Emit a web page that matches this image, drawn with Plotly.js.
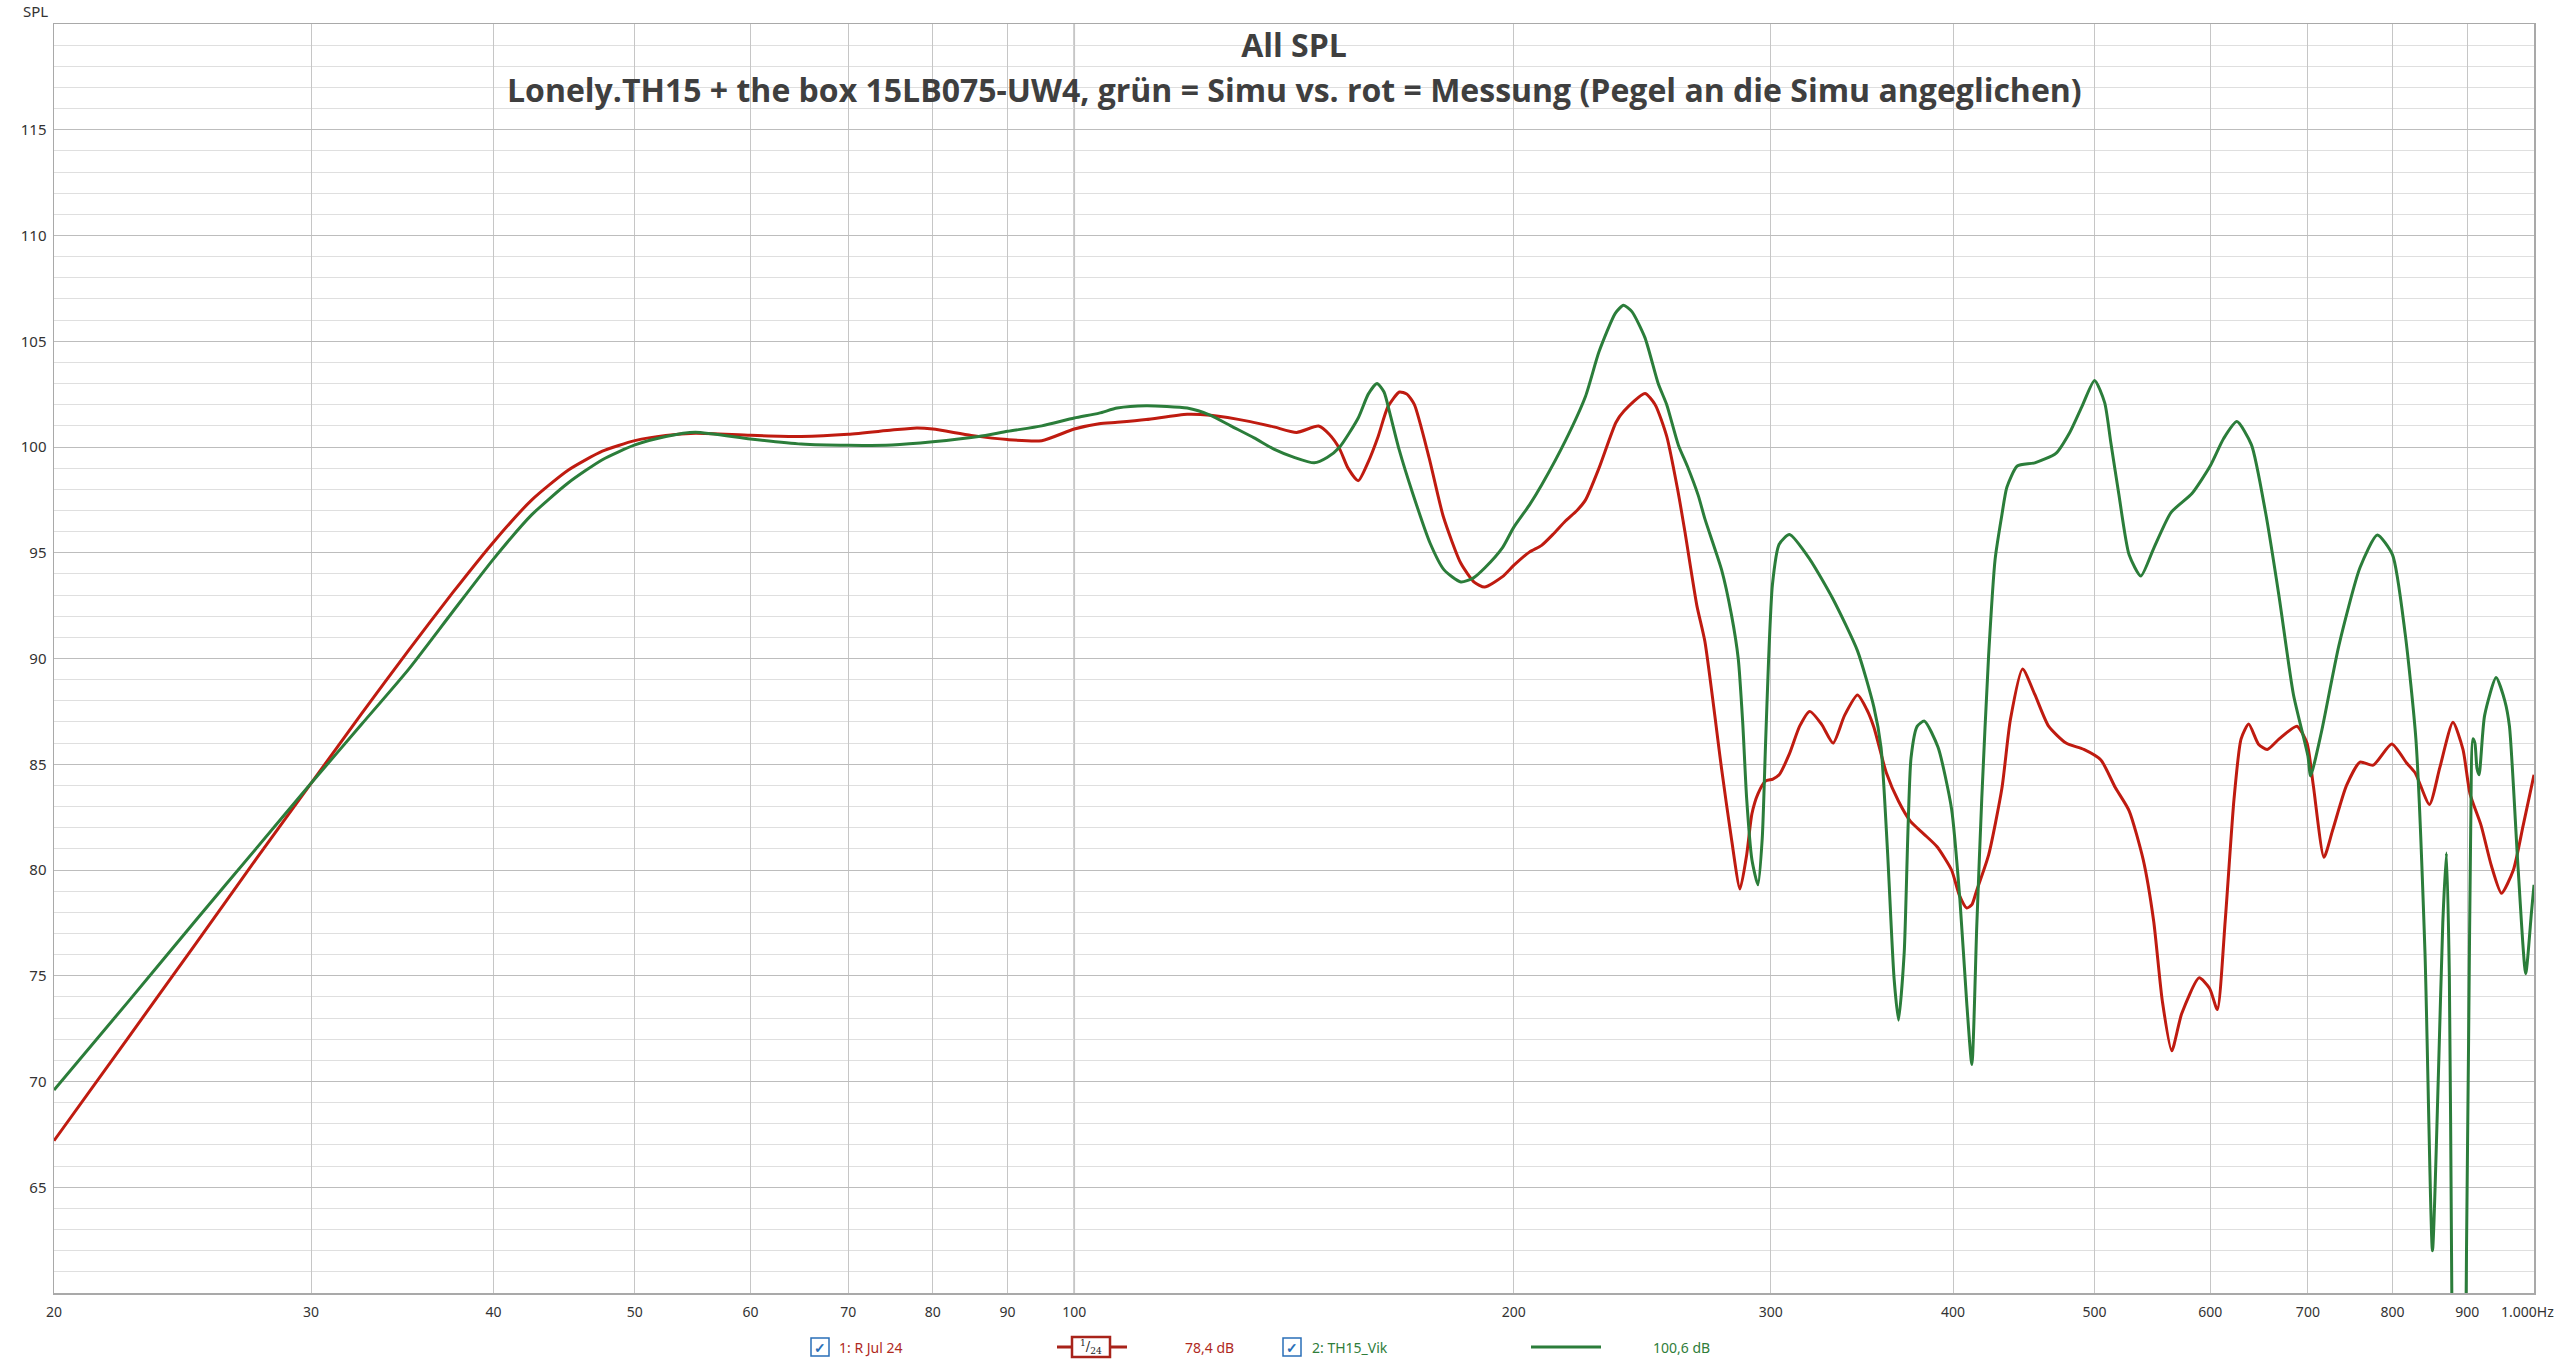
<!DOCTYPE html>
<html>
<head>
<meta charset="utf-8">
<script src="https://cdn.plot.ly/plotly-3.0.1.min.js"></script>
<style>
  html, body { margin: 0; padding: 0; background: #ffffff; }
  #chart { width: 2560px; height: 1361px; }
</style>
</head>
<body>
<div id="chart"></div>
<script>
// ---------------- DATA ----------------
const xTickVals = [20, 30, 40, 50, 60, 70, 80, 90, 100, 200, 300, 400, 500, 600, 700, 800, 900, 1000];
const xTickText = ["20", "30", "40", "50", "60", "70", "80", "90", "100", "200", "300", "400", "500", "600", "700", "800", "900", "1.000Hz"];
const yTickVals = [65, 70, 75, 80, 85, 90, 95, 100, 105, 110, 115];

// 1: R Jul 24 (measurement, red)
const redFreq = [20, 22.5, 25, 27.5, 30, 32.5, 35, 37.5, 40, 42.5, 45, 47.5, 50, 52.5, 55, 60, 65, 70, 75, 78, 80, 85, 90, 95, 100,
  104, 107, 112, 119.5, 124, 132, 137, 142, 147, 149.5, 152, 154, 156.5, 159, 161.5, 164, 167, 169, 171, 175, 179, 184, 188, 191,
  196.5, 200, 205, 209, 213, 217, 221, 224, 228.8, 235, 238, 246, 250, 254.6, 259, 262, 267, 270.4, 277.6, 282, 285.8, 288.8,
  291.2, 294, 297.5, 301, 304, 309, 314, 319, 325, 331, 337, 344, 349, 353, 360, 367, 374, 382, 390, 399, 404, 408.7, 412, 415,
  423, 432, 437.8, 446.3, 455, 465, 478, 491.6, 505, 516.6, 528, 539.8, 548.8, 556.4, 564.7, 573.6, 589.6, 599.5, 606.8, 614.4,
  623, 630, 637.6, 647.5, 656.5, 669, 688, 699, 706, 718, 728, 744, 760, 776, 799, 818, 829, 848, 862, 880, 894, 904, 920, 935,
  950, 968, 983, 1000];
const redSpl = [67.2, 72.1, 76.5, 80.5, 84.1, 87.4, 90.4, 93.1, 95.5, 97.5, 98.9, 99.8, 100.3, 100.55, 100.65, 100.55, 100.5, 100.6, 100.8, 100.9, 100.85, 100.55, 100.35, 100.3, 100.85,
  101.1, 101.17, 101.3, 101.55, 101.5, 101.2, 100.95, 100.69, 100.99, 100.6, 99.9, 99.0, 98.41, 99.3, 100.5, 101.9, 102.6, 102.5, 102.0, 99.5, 96.7, 94.5, 93.6, 93.38,
  93.87, 94.4, 95.03, 95.35, 95.9, 96.5, 97.0, 97.5, 99.0, 101.16, 101.7, 102.53, 102.0, 100.5, 98.0, 96.0, 92.5, 90.8, 84.8, 81.45, 79.1, 80.7,
  82.65, 83.6, 84.2, 84.3, 84.5, 85.5, 86.8, 87.5, 86.9, 86.0, 87.3, 88.27, 87.6, 86.75, 84.6, 83.25, 82.3, 81.7, 81.1, 80.0, 78.8, 78.2, 78.36, 79.0,
  80.7, 83.86, 87.1, 89.5, 88.3, 86.8, 86.0, 85.7, 85.2, 83.9, 82.8, 80.5, 77.6, 73.8, 71.45, 73.2, 74.9, 74.4, 73.4, 77.6,
  83.35, 86.2, 86.9, 85.95, 85.7, 86.2, 86.8, 86.0, 84.0, 80.6, 81.9, 84.0, 85.1, 84.96, 85.96, 85.06, 84.6, 83.1, 84.85, 86.98, 85.7, 83.6, 82.1, 80.2,
  78.9, 80.0, 82.1, 84.5];

// 2: TH15_Vik (simulation, green)
const greenFreq = [20, 22.5, 25, 27.5, 30, 32.5, 35, 37.5, 40, 42.5, 45, 47.5, 50, 52.5, 55, 60, 65, 70, 75, 80, 86, 90, 95, 100,
  104, 107, 112, 119.5, 124, 128, 132.8, 137, 141.6, 146, 149, 152, 156.5, 159, 161.2, 163, 164.5, 166.9, 170.6, 175.3, 179.2, 184,
  187.6, 191.2, 196.5, 200, 205, 209, 217, 224, 228.8, 234.8, 237.8, 241, 246, 251.2, 254.6, 259.3, 263, 267.6, 270.4, 277.6, 282,
  285, 287, 288.8, 291.2, 294, 296, 297.5, 299, 300.8, 304, 309, 319, 331, 344, 353, 357, 360.6, 364.4, 367, 370.3, 374.3, 378,
  382.3, 390.6, 399, 404.3, 408.7, 412, 415.2, 418.5, 423, 427.4, 432, 435.4, 442.6, 455, 470.4, 480.9, 490, 500, 508, 513, 519.4,
  528, 537.8, 548.8, 564, 583, 600, 612.9, 625.8, 640.4, 654.8, 669, 684.2, 700, 703, 715, 735, 760, 781, 800, 816, 830, 842, 852,
  860, 866, 871, 875, 878, 881, 890, 896, 899, 902, 905, 908, 911, 914, 917, 925, 942, 955, 962, 975, 987, 996, 1000];
const greenSpl = [69.6, 73.8, 77.6, 81.0, 84.1, 86.9, 89.5, 92.2, 94.7, 96.8, 98.3, 99.4, 100.1, 100.5, 100.7, 100.38, 100.14, 100.08, 100.1, 100.25, 100.5, 100.74, 101.0, 101.37,
  101.6, 101.84, 101.95, 101.84, 101.5, 101.0, 100.43, 99.9, 99.5, 99.25, 99.5, 100.0, 101.37, 102.5, 103.0, 102.6, 101.6, 99.9, 97.78, 95.45, 94.19, 93.62,
  93.8, 94.3, 95.24, 96.2, 97.25, 98.2, 100.3, 102.4, 104.5, 106.33, 106.7, 106.4, 105.17, 103.0, 102.0, 100.1, 99.1, 97.7, 96.6, 94.2, 92.05,
  90.0, 87.0, 83.4, 80.5, 79.3, 81.5, 85.8, 90.0, 93.5, 95.4, 95.86, 94.7, 92.8, 90.36, 87.7, 85.8, 81.0, 74.9, 72.9, 76.1, 85.3, 86.8,
  87.04, 85.8, 82.9, 78.6, 73.7, 70.8, 77.35, 83.4, 90.1, 94.7, 96.8, 98.1, 99.1, 99.25, 99.7, 100.7, 101.9, 103.15, 102.1, 100.2, 97.8,
  94.9, 93.9, 95.2, 96.9, 97.8, 99.1, 100.4, 101.2, 100.1, 96.9, 92.9, 88.3, 85.4, 84.45, 86.5, 90.6, 94.3, 95.84, 94.9, 91.2, 86.2, 76.1, 62.0,
  70.3, 77.5, 80.8, 75.0, 62.0, 50.0, 40.0, 50.0, 62.0, 72.0, 82.0, 86.2, 86.0, 84.8, 84.5, 87.3, 89.1, 88.0, 86.8, 80.2, 75.1, 78.0, 79.3];

const series1Name = "1: R Jul 24";
const series1Level = "78,4 dB";
const series2Name = "2: TH15_Vik";
const series2Level = "100,6 dB";
const titleMain = "All SPL";
const titleSub = "Lonely.TH15 + the box 15LB075-UW4, grün = Simu vs. rot = Messung (Pegel an die Simu angeglichen)";

// ---------------- STYLE / LAYOUT ----------------
const W = 2560, H = 1361;
const M = { l: 54, r: 26, t: 24, b: 68 };
const PW = W - M.l - M.r, PH = H - M.t - M.b;
const px = x => (x - M.l) / PW;          // page pixel -> paper x
const py = y => (H - M.b - y) / PH;      // page pixel -> paper y

const RED = "#bf1b10";
const GREEN = "#2b7d3a";
const RED_TXT = "#b02a1e";
const GREEN_TXT = "#2f7d3a";
const BLUE = "#2a6fb8";
const uiFont = "Noto Sans, Open Sans, sans-serif";
const titleFont = { family: "Open Sans, Noto Sans, sans-serif", size: 32, color: "#3f3f3f", weight: 700 };

const traces = [
  { x: redFreq, y: redSpl, name: series1Name, type: "scatter", mode: "lines",
    line: { color: RED, width: 3, shape: "spline", smoothing: 0.6 }, hoverinfo: "x+y+name" },
  { x: greenFreq, y: greenSpl, name: series2Name, type: "scatter", mode: "lines",
    line: { color: GREEN, width: 3, shape: "spline", smoothing: 0.6 }, hoverinfo: "x+y+name" }
];

// the last tick label ("1.000Hz") would be cut at the page edge: it is drawn
// right-aligned by an annotation instead of by the axis
const axisTickText = xTickText.map((t, i) => i === xTickText.length - 1 ? " " : t);

const legY = 1347;
const shapes = [
  // emphasised 100 Hz gridline
  { type: "line", xref: "x", yref: "paper", x0: 100, x1: 100, y0: 0, y1: 1, layer: "below",
    line: { color: "#9a9a9a", width: 1.5 } },
  // checkbox 1
  { type: "rect", xref: "paper", yref: "paper", x0: px(811), x1: px(829), y0: py(legY + 9), y1: py(legY - 9),
    line: { color: BLUE, width: 1.5 }, fillcolor: "#ffffff" },
  // 1/24 smoothing symbol: line + box
  { type: "line", xref: "paper", yref: "paper", x0: px(1057), x1: px(1127), y0: py(legY), y1: py(legY),
    line: { color: "#a8231a", width: 3 } },
  { type: "rect", xref: "paper", yref: "paper", x0: px(1072), x1: px(1110), y0: py(legY + 10), y1: py(legY - 10),
    line: { color: "#a8231a", width: 2.5 }, fillcolor: "#ffffff" },
  // checkbox 2
  { type: "rect", xref: "paper", yref: "paper", x0: px(1283), x1: px(1301), y0: py(legY + 9), y1: py(legY - 9),
    line: { color: BLUE, width: 1.5 }, fillcolor: "#ffffff" },
  // green legend line
  { type: "line", xref: "paper", yref: "paper", x0: px(1531), x1: px(1601), y0: py(legY), y1: py(legY),
    line: { color: GREEN, width: 3 } }
];

const annFont = (size, color, weight) => ({ family: uiFont, size: size, color: color, weight: weight || 400 });
const annotations = [
  { text: titleSub, xref: "paper", yref: "paper", x: 0.5, y: py(90), xanchor: "center", yanchor: "middle",
    showarrow: false, font: titleFont },
  { text: "SPL", xref: "paper", yref: "paper", x: px(50), y: py(11), xanchor: "right", yanchor: "middle",
    showarrow: false, font: annFont(15, "#333333") },
  { text: xTickText[xTickText.length - 1], xref: "paper", yref: "paper", x: px(2556), y: py(1311), xanchor: "right", yanchor: "middle",
    showarrow: false, font: annFont(14, "#333333") },
  { text: "✓", xref: "paper", yref: "paper", x: px(820), y: py(legY), xanchor: "center", yanchor: "middle",
    showarrow: false, font: annFont(14, BLUE, 700) },
  { text: series1Name, xref: "paper", yref: "paper", x: px(837), y: py(legY), xanchor: "left", yanchor: "middle",
    showarrow: false, font: annFont(14, RED_TXT) },
  { text: "<sup>1</sup>/<sub>24</sub>", xref: "paper", yref: "paper", x: px(1091), y: py(legY), xanchor: "center", yanchor: "middle",
    showarrow: false, font: { family: "DejaVu Serif, serif", size: 13, color: "#222222" } },
  { text: series1Level, xref: "paper", yref: "paper", x: px(1183), y: py(legY), xanchor: "left", yanchor: "middle",
    showarrow: false, font: annFont(14, RED_TXT) },
  { text: "✓", xref: "paper", yref: "paper", x: px(1292), y: py(legY), xanchor: "center", yanchor: "middle",
    showarrow: false, font: annFont(14, BLUE, 700) },
  { text: series2Name, xref: "paper", yref: "paper", x: px(1310), y: py(legY), xanchor: "left", yanchor: "middle",
    showarrow: false, font: annFont(14, GREEN_TXT) },
  { text: series2Level, xref: "paper", yref: "paper", x: px(1651), y: py(legY), xanchor: "left", yanchor: "middle",
    showarrow: false, font: annFont(14, GREEN_TXT) }
];

const layout = {
  width: W, height: H,
  margin: M,
  paper_bgcolor: "#ffffff",
  plot_bgcolor: "#ffffff",
  showlegend: false,
  title: {
    text: titleMain,
    xref: "paper", x: 0.5, xanchor: "center",
    yref: "container", y: 1 - 46 / H, yanchor: "middle",
    font: titleFont
  },
  xaxis: {
    type: "log",
    range: [Math.log10(20), Math.log10(1000)],
    tickmode: "array", tickvals: xTickVals, ticktext: axisTickText,
    showgrid: true, gridcolor: "#c6c6c6", gridwidth: 1,
    showline: true, mirror: true, linecolor: "#a9a9a9", linewidth: 1.5,
    ticks: "", ticklabelstandoff: 6,
    zeroline: false,
    tickfont: { family: uiFont, size: 14, color: "#333333" }
  },
  yaxis: {
    range: [60, 120],
    tickmode: "array", tickvals: yTickVals,
    showgrid: true, gridcolor: "#bdbdbd", gridwidth: 1,
    minor: { tickmode: "linear", tick0: 60, dtick: 1, showgrid: true, gridcolor: "#dfdfdf", gridwidth: 1, ticks: "" },
    showline: true, mirror: true, linecolor: "#a9a9a9", linewidth: 1.5,
    ticks: "", ticklabelstandoff: 3,
    zeroline: false,
    tickfont: { family: uiFont, size: 15, color: "#333333" }
  },
  shapes: shapes,
  annotations: annotations
};

Plotly.newPlot("chart", traces, layout, { displayModeBar: false, staticPlot: true });
</script>
</body>
</html>
